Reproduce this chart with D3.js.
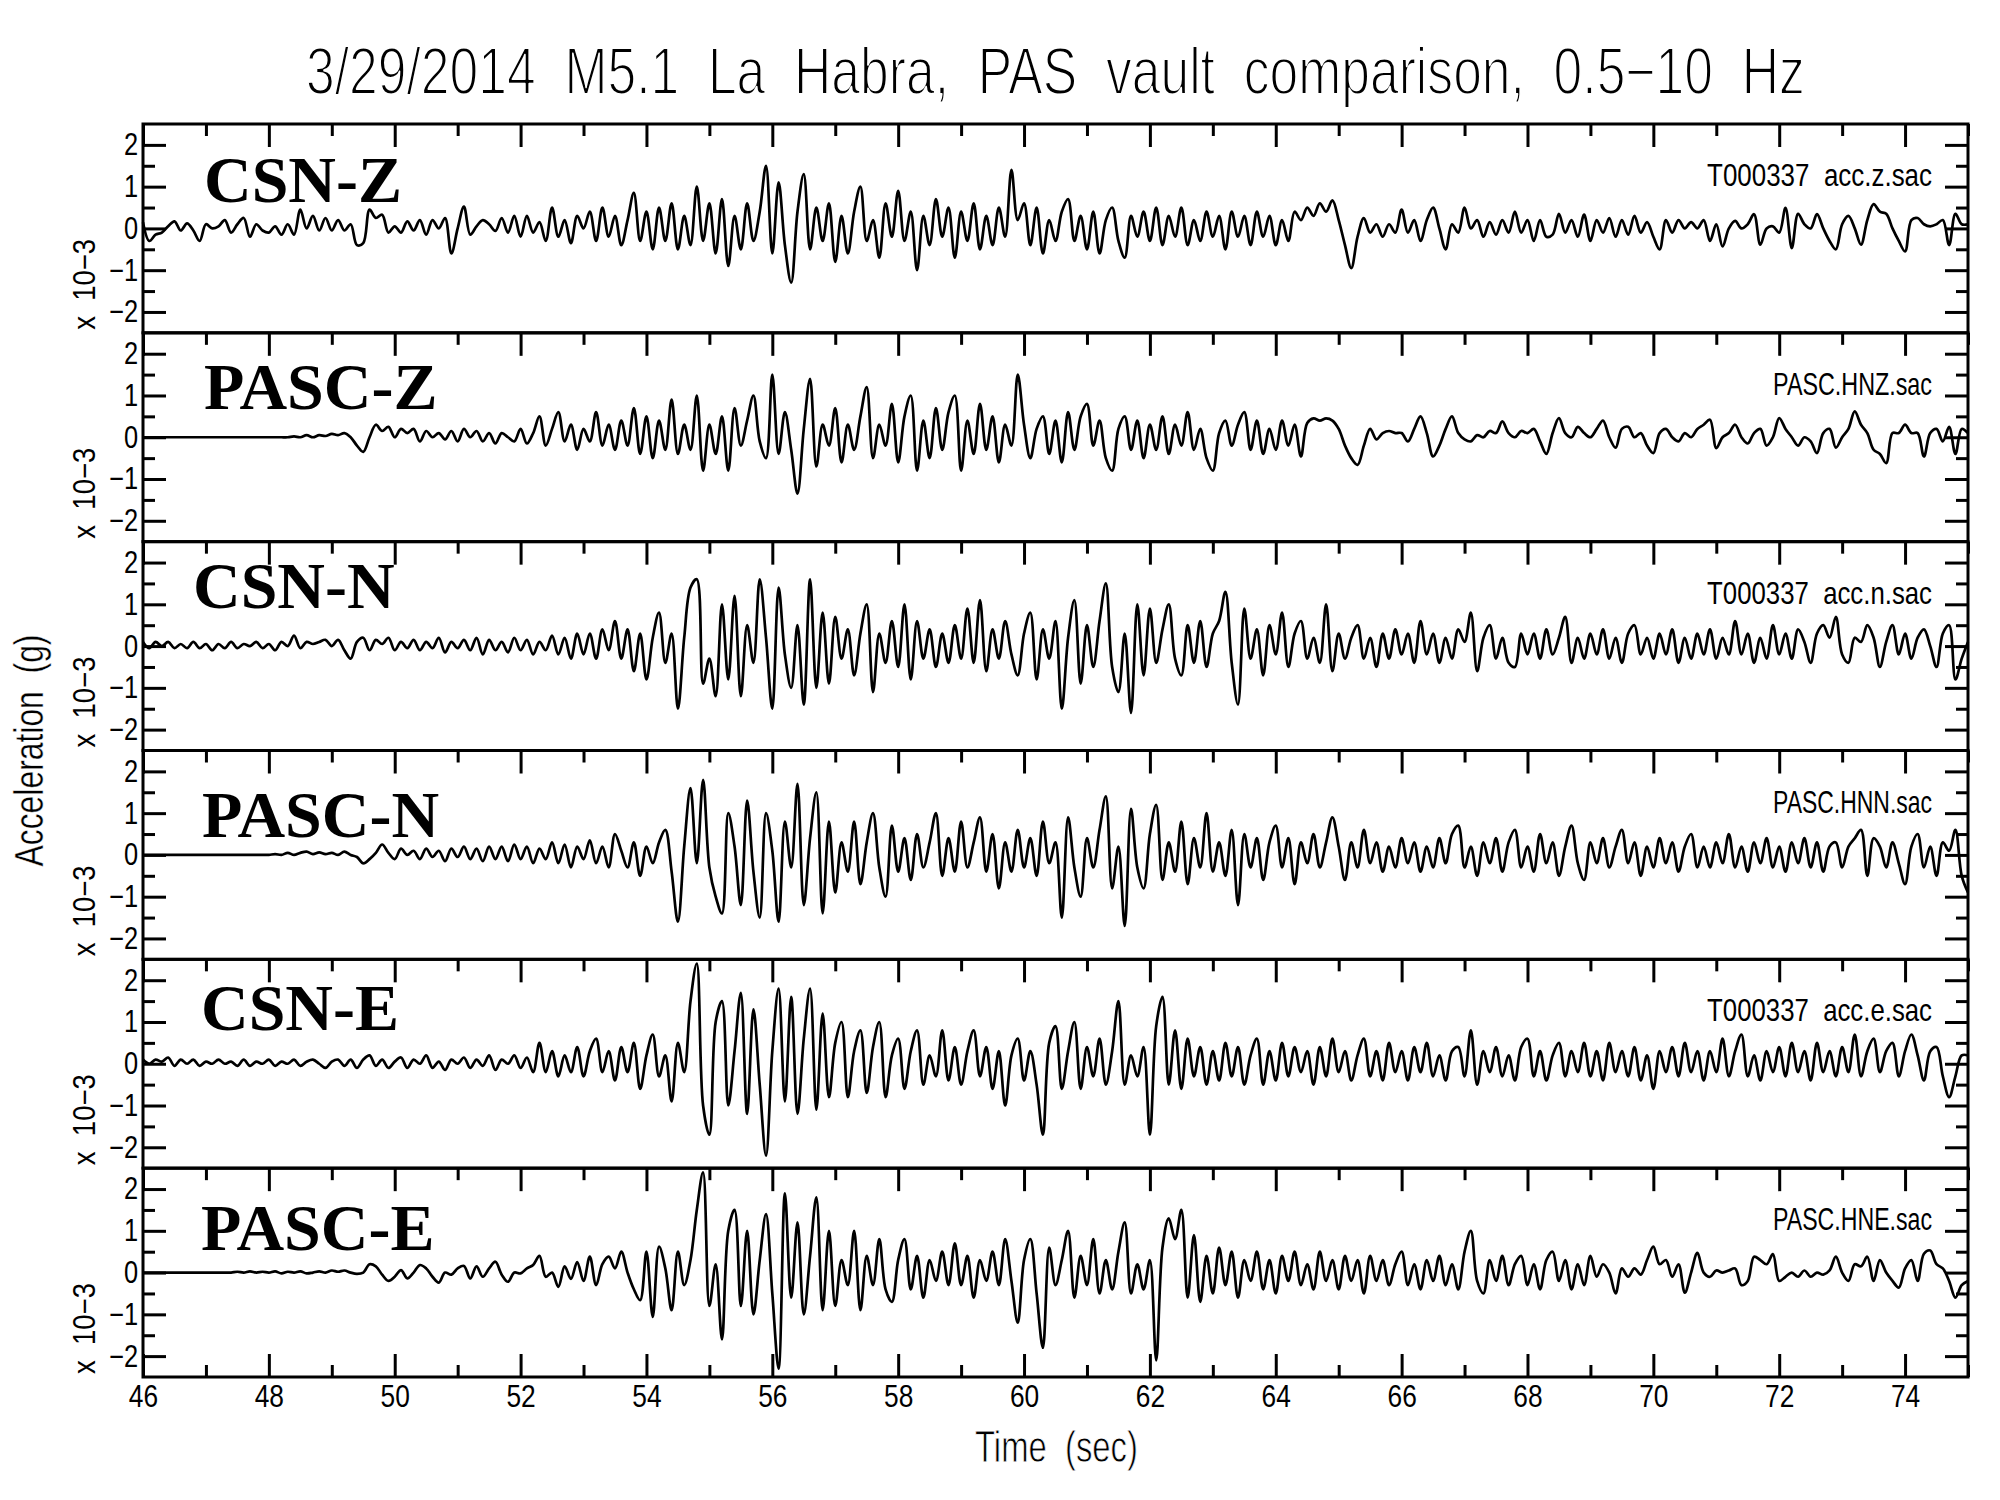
<!DOCTYPE html>
<html><head><meta charset="utf-8">
<script src="https://cdn.jsdelivr.net/npm/d3@7"></script>
<style>
html,body{margin:0;padding:0;background:#fff;}
svg{display:block;}
text{white-space:pre;}
</style></head>
<body><svg id="chart" width="2000" height="1500"></svg>
<script>
// ---------------- data ----------------
const titleText = "3/29/2014  M5.1  La  Habra,  PAS  vault  comparison,  0.5\u221210  Hz";
const xLabel = "Time  (sec)";
const yLabel = "Acceleration  (g)";
const scaleLabel = "x  10\u22123";
const panelNames = ["CSN-Z", "PASC-Z", "CSN-N", "PASC-N", "CSN-E", "PASC-E"];
const fileNames = ["T000337  acc.z.sac", "PASC.HNZ.sac", "T000337  acc.n.sac", "PASC.HNN.sac", "T000337  acc.e.sac", "PASC.HNE.sac"];
const xDomain = [46, 75];
const yDomain = [-2.5, 2.5];
const xMajorTicks = [46, 48, 50, 52, 54, 56, 58, 60, 62, 64, 66, 68, 70, 72, 74];
const xMinorTicks = [47, 49, 51, 53, 55, 57, 59, 61, 63, 65, 67, 69, 71, 73, 75];
const yMajorTicks = [-2, -1, 0, 1, 2];
const yMinorTicks = [-1.5, -0.5, 0.5, 1.5];
const tStart = 46, tStep = 0.1;   // sample times of the values below (x 10^-3 g)

const csnZ = [
 0.15,-0.3,-0.15,-0.1,0.05,0.17,-0.05,0.12,-0.05,-0.3,
 0.1,0,0.05,0.2,-0.1,0.1,0.25,-0.2,0.1,-0.05,
 -0.1,0.05,-0.15,0.1,-0.15,0.45,0,0.3,-0.05,0.25,
 -0.05,0.2,-0.05,0.1,-0.4,-0.35,0.45,0.25,0.33,-0.1,
 0.05,-0.1,0.17,-0.05,0.2,-0.15,0.2,0,0.25,-0.6,
 0,0.52,-0.15,0.05,0.2,0.1,-0.06,0.25,-0.1,0.3,
 -0.2,0.3,-0.1,0.15,-0.3,0.5,-0.2,0.2,-0.35,0.3,
 0,0.4,-0.3,0.5,-0.2,0.3,-0.4,0.2,0.85,-0.3,
 0.4,-0.5,0.5,-0.3,0.6,-0.5,0.3,-0.4,1.0,-0.3,
 0.6,-0.6,0.7,-0.9,0.3,-0.5,0.6,-0.3,0.4,1.5,
 -0.6,1.1,-0.4,-1.3,0.4,1.3,-0.5,0.5,-0.3,0.6,
 -0.8,0.3,-0.6,0.4,1.0,-0.3,0.2,-0.7,0.6,-0.2,
 0.9,-0.3,0.4,-1.0,0.3,-0.4,0.7,-0.2,0.5,-0.7,
 0.4,-0.3,0.6,-0.5,0.3,-0.4,0.5,-0.2,1.4,0.2,
 0.6,-0.4,0.5,-0.6,0.2,-0.3,0.4,0.7,-0.3,0.3,
 -0.5,0.4,-0.6,0.2,0.5,-0.3,-0.7,0.3,-0.2,0.4,
 -0.3,0.5,-0.4,0.3,-0.2,0.5,-0.4,0.2,-0.3,0.4,
 -0.2,0.3,-0.5,0.4,-0.2,0.3,-0.4,0.4,-0.2,0.3,
 -0.4,0.2,-0.3,0.4,0.2,0.5,0.3,0.6,0.4,0.67,
 0.2,-0.4,-0.95,-0.2,0.25,-0.1,0.1,-0.2,0.1,-0.1,
 0.45,-0.1,0.2,-0.3,0.2,0.5,0,-0.5,0.1,-0.1,
 0.5,0,0.2,-0.2,0.15,-0.15,0.2,-0.1,0.4,-0.1,
 0.2,-0.3,0.2,-0.2,-0.15,0.35,-0.1,0.2,-0.2,0.33,
 -0.3,0.2,-0.1,0.25,-0.2,0.2,-0.15,0.3,-0.1,0.15,
 -0.2,-0.5,0.2,-0.1,0.2,0,0.15,0,0.2,-0.3,
 0.1,-0.43,0,0.18,0,0.1,0.34,-0.39,0,0.05,
 -0.1,0.49,-0.47,0.35,0.1,0,0.34,0,-0.3,-0.5,
 0.1,0.3,0,-0.39,0.2,0.58,0.4,0.35,0,-0.3,
 -0.55,0.2,0.25,0.1,0.05,0.1,0.2,-0.4,0.35,0.1,
 0.1];

const pascZ = [
 0,0,0,0,0,0,0,0,0,0,
 0,0,0,0,0,0,0,0,0,0,
 0,0,0,0,0.02,0,0.05,0,0.05,0.03,
 0.08,0.05,0.1,0,-0.2,-0.35,0,0.3,0.15,0.25,
 0,0.2,0.1,0.2,-0.1,0.15,0,0.1,-0.05,0.15,
 -0.1,0.2,0,0.15,-0.1,0.1,-0.15,0.1,0,-0.1,
 0.2,-0.15,0.1,0.5,-0.2,0.2,0.6,-0.1,0.3,-0.3,
 0.2,-0.1,0.6,-0.2,0.3,-0.3,0.4,-0.2,0.7,-0.4,
 0.5,-0.5,0.4,-0.3,0.9,-0.4,0.3,-0.3,1.0,-0.8,
 0.3,-0.4,0.5,-0.8,0.7,-0.2,0.4,1.0,-0.1,-0.5,
 1.5,-0.4,0.6,-0.3,-1.35,0.2,1.4,-0.7,0.3,-0.2,
 0.7,-0.6,0.3,-0.3,0.5,1.2,-0.5,0.3,-0.2,0.8,
 -0.6,0.5,1.0,-0.8,0.4,-0.5,0.7,-0.3,0.6,1.0,
 -0.8,0.4,-0.4,0.8,-0.3,0.5,-0.6,0.3,-0.2,1.5,
 0.3,-0.5,0.2,0.5,-0.4,0.4,-0.6,0.6,-0.3,0.5,
 0.8,-0.2,0.4,-0.5,-0.8,0.2,0.5,-0.3,0.4,-0.5,
 0.3,-0.3,0.5,-0.4,0.3,-0.2,0.6,-0.3,0.2,-0.5,
 -0.8,0.1,0.4,-0.2,0.3,0.6,-0.3,0.4,-0.4,0.2,
 -0.3,0.4,-0.2,0.3,-0.46,0.34,0.45,0.4,0.45,0.4,
 0.2,-0.2,-0.5,-0.66,-0.2,0.2,-0.05,0.1,0.15,0.1,
 0.1,-0.1,0.2,0.5,0.1,-0.46,-0.2,0.2,0.5,0.1,
 -0.05,-0.1,0.05,0,0.15,0.1,0.38,0.1,0,0.15,
 0.1,0.2,-0.1,-0.4,0.1,0.46,0.1,0,0.25,0.1,
 0,0.2,0.4,0,-0.25,0.2,0.25,0,0.1,-0.2,
 -0.38,0.1,0.2,0,-0.1,0.1,0,0.2,0.3,0.42,
 -0.26,0,0.1,0.3,0,-0.15,0.1,0.2,-0.2,0,
 0.46,0.2,0,-0.2,0,-0.1,-0.38,0.1,0.2,-0.25,
 0,0.2,0.62,0.3,0.1,-0.3,-0.4,-0.62,0.1,0.1,
 0.3,0.1,0.1,-0.46,0.1,0.2,-0.1,0.25,-0.4,0.2,
 0.1];

const csnN = [
 0.1,-0.05,0.1,0,0.1,-0.05,0.05,-0.05,0.1,-0.05,
 0.05,-0.1,0.05,-0.05,0.1,-0.05,0.05,0,0.1,-0.05,
 0.05,-0.1,0.1,0,0.25,-0.05,0.1,0.05,0.1,0.15,
 0,0.15,-0.1,-0.3,0.1,0.2,-0.1,0.15,0.05,0.2,
 -0.1,0.1,-0.05,0.15,-0.1,0.1,-0.05,0.2,-0.15,0.1,
 -0.05,0.15,-0.1,0.2,-0.2,0.15,-0.1,0.1,-0.15,0.2,
 -0.1,0.15,-0.2,0.1,-0.1,0.25,-0.2,0.2,-0.3,0.3,
 -0.2,0.3,-0.3,0.4,-0.1,0.6,-0.3,0.4,-0.6,0.3,
 -0.8,0.2,0.8,-0.4,0.3,-1.5,0.2,1.4,1.6,-0.9,
 -0.3,-1.2,1.0,-0.8,1.2,-1.2,0.5,-0.4,1.6,0.2,
 -1.5,1.4,-0.2,-1.0,0.5,-1.4,1.6,-1.0,0.8,-0.9,
 0.7,-0.3,0.4,-0.7,0.3,1.0,-1.1,0.3,-0.4,0.6,
 -0.5,1.0,-0.8,0.6,-0.3,0.4,-0.5,0.3,-0.4,0.5,
 -0.3,0.9,-0.4,1.1,-0.6,0.4,-0.3,0.6,-0.2,-0.7,
 0.3,0.8,-0.8,0.4,-0.3,0.6,-1.5,0.2,1.1,-0.9,
 0.5,-0.5,0.6,1.5,-0.5,-1.1,0.3,-1.6,1.0,-0.7,
 0.9,-0.4,0.4,1.0,-0.3,-0.7,0.5,-0.4,0.6,-0.5,
 0.3,0.6,1.3,-0.4,-1.4,0.9,-0.3,0.4,-0.7,0.5,
 -0.2,0.8,-0.5,0.3,0.6,-0.3,0.2,-0.4,1.0,-0.6,
 0.3,-0.3,0.2,0.5,-0.3,0.2,-0.5,0.3,-0.3,0.4,
 -0.2,0.3,-0.4,0.6,-0.2,0.3,-0.4,0.2,-0.3,0.4,
 0.1,0.8,-0.6,0.2,0.5,-0.3,0.2,-0.4,-0.5,0.3,
 -0.2,0.3,-0.3,0.4,-0.2,0.2,0.7,-0.4,0.2,-0.3,
 0.3,-0.2,0.4,-0.3,0.2,-0.4,0.3,0.5,-0.2,0.2,
 -0.3,0.3,-0.2,0.4,-0.4,0.2,-0.3,0.3,-0.2,0.4,
 -0.3,0.2,-0.2,0.6,-0.2,0.3,-0.4,0.2,-0.3,0.5,
 -0.2,0.3,-0.3,0.4,0.1,-0.4,0.3,0.5,0.2,0.7,
 -0.2,-0.4,0.2,0.1,0.5,0.2,-0.5,0.1,0.5,-0.2,
 0.3,-0.3,0.2,0.4,0,-0.5,0.3,0.5,-0.8,-0.3,
 0.1];

const pascN = [
 0,0,0,0,0,0,0,0,0,0,
 0,0,0,0,0,0,0,0,0,0,
 0,0.02,0,0.05,0,0.05,0.08,0.02,0.06,0.02,
 0.05,0,0.08,0,-0.05,-0.2,-0.1,0.05,0.25,0.05,
 -0.1,0.15,0,0.1,-0.1,0.15,-0.05,0.1,-0.15,0.15,
 -0.05,0.2,-0.1,0.15,-0.15,0.2,-0.1,0.2,-0.15,0.25,
 -0.1,0.2,-0.2,0.15,-0.1,0.3,-0.2,0.25,-0.3,0.2,
 -0.1,0.35,-0.2,0.2,-0.3,0.5,0.1,-0.3,0.3,-0.5,
 0.2,-0.2,0.3,0.6,-0.4,-1.6,0.2,1.6,-0.2,1.8,
 -0.3,-1.0,-1.4,1.0,0.2,-1.2,1.3,-0.4,-1.5,1.0,
 0.1,-1.6,0.8,-0.3,1.7,-1.2,0.4,1.5,-1.4,0.8,
 -0.9,0.3,-0.4,0.8,-0.7,0.3,1.0,-0.3,-1.0,0.7,
 -0.4,0.4,-0.6,0.5,-0.3,0.3,1.0,-0.5,0.4,-0.4,
 0.8,-0.3,0.3,0.9,-0.4,0.5,-0.8,0.3,-0.4,0.6,
 -0.3,0.4,-0.5,0.8,-0.2,0.3,-1.5,0.9,-0.3,-1.0,
 0.4,-0.3,0.6,1.4,-0.8,0.2,-1.7,1.1,-0.3,-0.8,
 0.5,1.2,-0.6,0.3,-0.4,0.8,-0.7,0.4,-0.3,1.0,
 -0.4,0.3,-0.5,0.6,-1.2,0.5,-0.3,0.4,-0.6,0.3,
 0.7,-0.3,0.4,-0.7,0.3,-0.2,0.5,-0.3,0.3,0.9,
 0.2,-0.6,0.3,-0.3,0.6,-0.2,0.3,-0.4,0.2,-0.3,
 0.4,-0.2,0.3,-0.4,0.2,-0.3,0.4,-0.2,0.5,0.7,
 -0.3,0.2,-0.5,0.3,-0.2,0.4,-0.4,0.3,0.6,-0.3,
 0.2,-0.4,0.5,-0.2,0.3,-0.5,0.2,0.7,-0.2,-0.6,
 0.3,-0.2,0.4,-0.3,0.2,0.6,-0.2,0.3,-0.5,0.2,
 -0.3,0.4,-0.2,0.3,-0.4,0.2,0.5,-0.3,0.2,-0.3,
 0.3,-0.2,0.5,-0.3,0.2,-0.4,0.3,-0.2,0.4,-0.3,
 0.2,-0.4,0.3,-0.2,0.4,-0.3,0.3,-0.4,0.2,0.3,
 -0.3,0.2,0.4,0.6,-0.5,0.4,0.2,-0.3,0.3,-0.2,
 -0.7,0.2,0.5,-0.3,0.2,-0.5,0.3,0.1,0.6,-0.5,
 -0.9];

const csnE = [
 0.1,0,0.1,0.05,0.15,-0.05,0.1,0,0.1,-0.05,
 0.05,0,0.1,0,0.05,-0.05,0.1,-0.05,0.05,0,
 0.1,-0.05,0.05,0,0.1,-0.05,0.05,0.1,0,-0.1,
 0.05,0.1,-0.05,0.1,-0.1,0.1,0.2,-0.05,0.1,-0.1,
 0.05,0.15,-0.1,0.1,0,0.2,-0.1,0.05,-0.15,0.1,
 0,0.15,-0.1,0.1,-0.05,0.2,-0.15,0.1,0,0.2,
 -0.1,0.15,-0.2,0.5,-0.2,0.3,-0.3,0.2,-0.2,0.4,
 -0.3,0.3,0.6,-0.2,0.3,-0.4,0.4,-0.2,0.5,-0.6,
 0.2,0.7,-0.3,0.2,-0.9,0.5,-0.2,1.5,2.4,-1.0,
 -1.7,1.0,1.5,-1.0,0.3,1.7,-1.2,1.3,-0.5,-2.2,
 0.3,1.8,-0.9,1.6,-1.2,0.6,1.8,-1.1,1.2,-0.8,
 0.5,1.0,-0.8,0.3,0.8,-0.7,0.4,1.0,-0.8,0.2,
 0.6,-0.6,0.3,0.8,-0.5,0.2,-0.3,0.8,-0.4,0.4,
 -0.5,0.3,0.8,-0.3,0.4,-0.6,0.3,-1.0,0.2,0.6,
 -0.4,0.3,-0.5,-1.7,0.5,0.9,-0.6,0.3,1.0,-0.6,
 0.4,-0.3,0.6,-0.5,0.3,1.5,-0.5,0.2,-0.3,0.4,
 -1.7,0.9,1.6,-0.5,0.8,-0.6,0.6,-0.3,0.4,-0.5,
 0.3,-0.4,0.5,-0.3,0.4,-0.5,0.2,0.6,-0.5,0.3,
 -0.4,0.5,-0.3,0.4,-0.2,0.3,-0.5,0.4,-0.3,0.6,
 -0.2,0.3,-0.4,0.2,0.6,-0.3,0.3,-0.4,0.5,-0.2,
 0.3,-0.4,0.4,-0.2,0.5,-0.3,0.2,-0.4,0.3,0.4,
 -0.3,0.8,-0.5,0.3,-0.2,0.4,-0.3,0.2,-0.4,0.4,
 0.6,-0.3,0.3,-0.4,0.2,0.5,-0.3,0.3,-0.2,0.5,
 -0.3,0.3,-0.4,0.5,-0.2,0.3,-0.3,0.4,-0.4,0.2,
 -0.6,0.3,-0.2,0.4,-0.3,0.5,-0.2,0.3,-0.4,0.3,
 -0.2,0.6,-0.3,0.3,0.7,-0.3,0.2,-0.4,0.3,-0.2,
 0.4,-0.3,0.5,-0.2,0.3,-0.4,0.5,-0.2,0.3,-0.3,
 0.4,-0.2,0.7,-0.3,0.3,0.6,-0.2,0.3,0.5,-0.3,
 0.3,0.7,0.2,-0.4,0.3,0.4,-0.3,-0.8,-0.3,0.2,
 0.2];

const pascE = [
 0,0,0,0,0,0,0,0,0,0,
 0,0,0,0,0,0.02,0,0.03,0,0.02,
 0,0.03,-0.02,0.02,0,0.03,-0.02,0,0.03,0,
 0.05,0.02,0.05,0,-0.03,0,0.2,0.15,-0.05,-0.2,
 -0.1,0.06,-0.14,0,0.18,0.1,-0.1,-0.24,0,-0.05,
 0.1,0.16,-0.14,0.15,-0.1,0.1,0.26,-0.05,-0.22,0,
 -0.02,0.1,0.18,0.4,-0.1,0,-0.34,0.15,-0.15,0.25,
 -0.2,0.38,-0.3,0.2,0.38,0.1,0.5,0,-0.4,-0.66,
 0.5,-1.06,0.62,0.1,-0.9,0.5,-0.3,0.3,1.5,2.4,
 -0.8,0.2,-1.6,1.0,1.5,-0.8,1.0,-1.0,0.3,1.4,
 -0.5,-2.3,1.9,-0.6,1.2,-1.0,0.4,1.8,-0.9,1.0,
 -0.8,0.3,-0.3,1.0,-0.9,0.4,-0.3,0.8,-0.4,-0.7,
 0.3,0.8,-0.4,0.4,-0.6,0.3,-0.2,0.5,-0.3,0.7,
 -0.3,0.4,-0.6,0.3,-0.2,0.5,-0.3,0.8,-0.2,-1.2,
 0.3,0.8,-0.5,-1.8,0.6,-0.3,0.3,1.0,-0.6,0.4,
 -0.3,0.8,-0.5,0.3,-0.4,0.5,1.2,-0.5,0.2,-0.4,
 0.3,-2.1,0.6,1.3,0.8,1.5,-0.6,0.9,-0.7,0.4,
 -0.5,0.6,-0.3,0.5,-0.6,0.3,-0.2,0.5,-0.4,0.3,
 -0.5,0.4,-0.2,0.5,-0.3,0.2,-0.4,0.5,-0.2,0.3,
 -0.4,0.4,-0.2,0.3,-0.5,0.4,-0.2,0.3,-0.3,0.2,
 0.5,-0.3,0.2,-0.4,0.3,-0.2,0.4,-0.3,0.2,-0.4,
 0.5,1.0,-0.2,-0.5,0.3,-0.2,0.4,-0.3,0.2,0.4,
 -0.3,0.2,-0.4,0.3,0.5,-0.2,0.3,-0.4,0.2,-0.3,
 0.4,-0.1,0.2,0,-0.5,0.1,-0.1,0.1,-0.05,0.3,
 0.62,0.2,0.3,-0.1,0.2,-0.48,0,0.47,0,-0.1,
 0.05,0,0.05,0.1,-0.3,-0.2,0.38,0.3,0.2,0.44,
 -0.2,-0.1,0,-0.1,0.05,-0.1,0,-0.05,0.05,0.38,
 0,-0.2,0.2,0.15,0.38,-0.2,0.3,0,-0.2,-0.36,
 0.1,0.3,-0.2,0.45,0.53,0.2,0.1,-0.2,-0.6,-0.3,
 -0.2];

const series = [csnZ, pascZ, csnN, pascN, csnE, pascE];

// ---------------- layout ----------------
const L = 143, R = 1968, T = 124, B = 1377;
const pH = (B - T) / series.length;
const FONT = "'Liberation Sans', Arial, sans-serif";
const SERIF = "'Liberation Serif', 'Times New Roman', serif";
const labelOffsets = [[204, 78], [204, 76], [193, 66], [202, 86], [201, 71], [201, 82]];
const fileWidths = [225, 159, 225, 159, 225, 159];

const svg = d3.select("#chart");
svg.append("rect").attr("width", 2000).attr("height", 1500).attr("fill", "#fff");

const x = d3.scaleLinear().domain(xDomain).range([L, R]);

// place a text and squeeze it horizontally to a target width; optional white outline thins strokes
function fitText(parent, str, size, width, baseTransform, anchor, thin) {
  const t = parent.append("text")
    .attr("font-family", FONT).attr("font-size", size).attr("fill", "#000")
    .attr("text-anchor", anchor || "start")
    .text(str);
  if (thin) t.attr("stroke", "#fff").attr("stroke-width", thin).attr("stroke-linejoin", "round");
  const w = t.node().getComputedTextLength();
  const sx = w > 0 ? width / w : 1;
  t.attr("transform", `${baseTransform} scale(${sx},1)`);
  return t;
}

function clean(g, sx) {
  g.select(".domain").remove();
  g.selectAll(".tick line").attr("stroke", "#000").attr("stroke-width", 3);
  g.selectAll(".tick text")
    .attr("font-family", FONT).attr("font-size", 31).attr("fill", "#000")
    .attr("transform", `scale(${sx},1)`);
}

series.forEach((vals, i) => {
  const top = T + i * pH, bot = top + pH;
  const y = d3.scaleLinear().domain(yDomain).range([bot, top]);
  const g = svg.append("g");

  // waveform
  const line = d3.line()
    .x((d, j) => x(tStart + j * tStep))
    .y(d => y(d))
    .curve(d3.curveCatmullRom.alpha(0.5));
  g.append("path").attr("d", line(vals))
    .attr("fill", "none").attr("stroke", "#000")
    .attr("stroke-width", 2.7).attr("stroke-linejoin", "round");

  // x ticks at top of panel (pointing down)
  g.append("g").attr("transform", `translate(0,${top})`)
    .call(d3.axisTop(x).tickValues(xMajorTicks).tickSize(-23).tickFormat(""))
    .call(s => clean(s, 1));
  g.append("g").attr("transform", `translate(0,${top})`)
    .call(d3.axisTop(x).tickValues(xMinorTicks).tickSize(-12).tickFormat(""))
    .call(s => clean(s, 1));

  // left y ticks with labels
  g.append("g").attr("transform", `translate(${L},0)`)
    .call(d3.axisLeft(y).tickValues(yMajorTicks).tickSize(-23).tickPadding(6).tickFormat(d3.format("d")))
    .call(s => clean(s, 0.82));
  g.append("g").attr("transform", `translate(${L},0)`)
    .call(d3.axisLeft(y).tickValues(yMinorTicks).tickSize(-12).tickFormat(""))
    .call(s => clean(s, 1));
  // right y ticks
  g.append("g").attr("transform", `translate(${R},0)`)
    .call(d3.axisRight(y).tickValues(yMajorTicks).tickSize(-23).tickFormat(""))
    .call(s => clean(s, 1));
  g.append("g").attr("transform", `translate(${R},0)`)
    .call(d3.axisRight(y).tickValues(yMinorTicks).tickSize(-12).tickFormat(""))
    .call(s => clean(s, 1));

  // frame
  g.append("rect").attr("x", L).attr("y", top).attr("width", R - L).attr("height", pH)
    .attr("fill", "none").attr("stroke", "#000").attr("stroke-width", 3);

  // panel name
  g.append("text").attr("x", labelOffsets[i][0]).attr("y", top + labelOffsets[i][1])
    .attr("font-family", SERIF).attr("font-weight", "bold").attr("font-size", 66)
    .attr("fill", "#000").text(panelNames[i]);

  // file name
  fitText(g, fileNames[i], 31, fileWidths[i], `translate(1932,${top + 62})`, "end");

  // x 10-3 label
  fitText(g, scaleLabel, 31, 91, `translate(95,${bot - 3}) rotate(-90)`, "start");

  // bottom axis for last panel
  if (i === series.length - 1) {
    g.append("g").attr("transform", `translate(0,${bot})`)
      .call(d3.axisBottom(x).tickValues(xMajorTicks).tickSize(-23).tickPadding(8).tickFormat(d3.format("d")))
      .call(s => clean(s, 0.85));
    g.append("g").attr("transform", `translate(0,${bot})`)
      .call(d3.axisBottom(x).tickValues(xMinorTicks).tickSize(-12).tickFormat(""))
      .call(s => clean(s, 1));
  }
});

// title
fitText(svg, titleText, 66, 1499, "translate(306,94)", "start", 2);
// x label
fitText(svg, xLabel, 44, 163, "translate(975,1462)", "start", 0.8);
// y label
fitText(svg, yLabel, 40, 232, `translate(43,${(T + B) / 2 + 116}) rotate(-90)`, "start", 0.4);
</script>
</body></html>
